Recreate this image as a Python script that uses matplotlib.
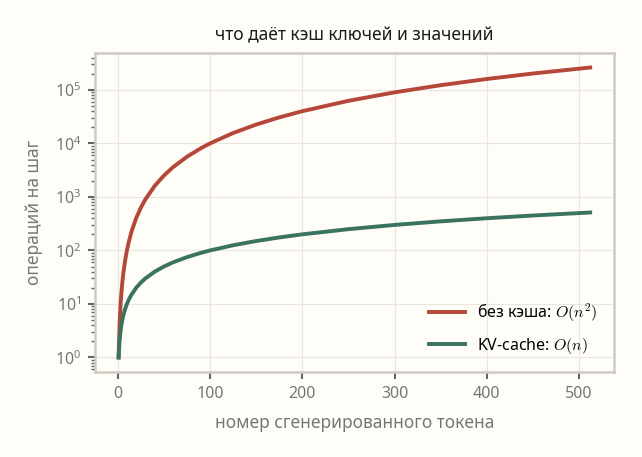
import matplotlib
matplotlib.use("Agg")
from matplotlib import pyplot as plt

tokens = [1, 2, 3, 4, 5, 6, 8, 10, 12, 15, 20, 25, 30, 40, 50, 60, 75, 90, 100,
          125, 150, 175, 200, 250, 300, 350, 400, 450, 512]
no_cache = [1, 4, 9, 16, 25, 36, 64, 100, 144, 225, 400, 625, 900, 1600, 2500,
            3600, 5625, 8100, 10000, 15625, 22500, 30625, 40000, 62500, 90000,
            122500, 160000, 202500, 262144]
kv_cache = [1, 2, 3, 4, 5, 6, 8, 10, 12, 15, 20, 25, 30, 40, 50, 60, 75, 90, 100,
            125, 150, 175, 200, 250, 300, 350, 400, 450, 512]
labels = [r"без кэша: $O(n^2)$", r"KV-cache: $O(n)$"]

BG = "#fffdf7"
plt.rcParams['font.family'] = ['Noto Sans', 'DejaVu Sans']
plt.rcParams['mathtext.fontset'] = 'cm'

fig, ax = plt.subplots(figsize=(6.42, 4.57), dpi=100)
fig.patch.set_facecolor(BG)
ax.set_facecolor(BG)

ax.plot(tokens, no_cache, color="#b5473a", lw=2.8, label=labels[0])
ax.plot(tokens, kv_cache, color="#3a7360", lw=2.8, label=labels[1])
ax.set_yscale("log")

ax.set_title("что даёт кэш ключей и значений", fontsize=12.5, color="#1a1a1a", pad=9)
ax.set_xlabel("номер сгенерированного токена", fontsize=12.5, color="#777772", labelpad=9)
ax.set_ylabel("операций на шаг", fontsize=12.5, color="#777772", labelpad=8)

ax.grid(True, which="major", color="#e8e6df", lw=0.8)
for s in ax.spines.values():
    s.set_color("#cdcbc2")
    s.set_linewidth(1.8)
ax.tick_params(which="major", length=5, width=1.5, color="#666660",
               labelcolor="#777772", labelsize=11.5, pad=5)
ax.tick_params(which="minor", length=3, width=1, color="#666660")
ax.tick_params(axis="x", which="minor", bottom=False)

leg = ax.legend(loc="lower right", frameon=False, fontsize=11.5,
                borderaxespad=0.6, labelspacing=0.75, handlelength=2.2)

fig.subplots_adjust(left=0.148, right=0.956, top=0.884, bottom=0.186)
fig.savefig("out.png", dpi=100, facecolor=BG)
